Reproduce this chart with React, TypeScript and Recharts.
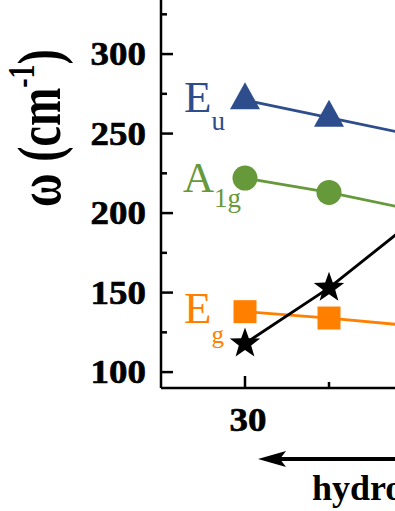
import React from "react";
import { LineChart, Line, XAxis, YAxis } from "recharts";

// values (pressure in GPa, frequency in cm^-1)
const pressure = [30, 40, 50];
const euFreq = [271, 260, 249];
const a1gFreq = [222, 213, 202];
const egFreq = [138, 134, 129];
const starFreq = [118, 153, 195];
const xTicks = [30, 40];
const yTicks = [100, 125, 150, 175, 200, 225, 250, 275, 300, 325];

const BLUE = "#2E4D8C";
const GREEN = "#66993A";
const ORANGE = "#FF8000";
const FONT = "'Liberation Serif', 'Times New Roman', serif";

const data = pressure.map((p, i) => ({
  p,
  eu: euFreq[i],
  a1g: a1gFreq[i],
  eg: egFreq[i],
  star: starFreq[i],
}));

const triangleDot = (props: any) => {
  const { cx, cy, index } = props;
  return (
    <path
      key={`tri-${index}`}
      d={`M${cx},${cy - 18} L${cx + 15},${cy + 9} L${cx - 15},${cy + 9} Z`}
      fill={BLUE}
    />
  );
};

const circleDot = (props: any) => {
  const { cx, cy, index } = props;
  return <circle key={`cir-${index}`} cx={cx} cy={cy} r={12.5} fill={GREEN} />;
};

const squareDot = (props: any) => {
  const { cx, cy, index } = props;
  return <rect key={`sq-${index}`} x={cx - 11.5} y={cy - 11.5} width={23} height={23} fill={ORANGE} />;
};

const starDot = (props: any) => {
  const { cx, cy, index } = props;
  const pts: string[] = [];
  for (let k = 0; k < 10; k++) {
    const r = k % 2 === 0 ? 16 : 6.5;
    const a = -Math.PI / 2 + (k * Math.PI) / 5;
    pts.push(`${cx + r * Math.cos(a)},${cy + r * Math.sin(a)}`);
  }
  return <polygon key={`st-${index}`} points={pts.join(" ")} fill="#000" />;
};

const YTick = (props: any) => {
  const { x, y, payload } = props;
  const major = payload.value % 50 === 0;
  return (
    <g>
      <line x1={x + 16} x2={x + 16 + (major ? 12 : 6)} y1={y} y2={y} stroke="#000" strokeWidth={2.5} />
      {major && (
        <text
          transform={`translate(${x + 1},${y + 11}) scale(1.12,1)`}
          textAnchor="end"
          fontFamily={FONT}
          fontWeight="bold"
          fontSize={33}
          stroke="#000"
          strokeWidth={0.6}
          fill="#000"
        >
          {payload.value}
        </text>
      )}
    </g>
  );
};

const XTick = (props: any) => {
  const { x, y, payload } = props;
  const major = (payload.value - 30) % 20 === 0;
  return (
    <g>
      <line x1={x} x2={x} y1={y} y2={y - (major ? 12 : 6)} stroke="#000" strokeWidth={2.5} />
      {major && (
        <text
          transform={`translate(${x + 3},${y + 43}) scale(1.12,1)`}
          textAnchor="middle"
          fontFamily={FONT}
          fontWeight="bold"
          fontSize={33}
          stroke="#000"
          strokeWidth={0.6}
          fill="#000"
        >
          {payload.value}
        </text>
      )}
    </g>
  );
};

export default function App() {
  return (
    <div
      style={{
        position: "absolute",
        left: 0,
        top: 0,
        width: 395,
        height: 511,
        overflow: "hidden",
        background: "#fff",
      }}
    >
      <LineChart width={581} height={511} data={data} margin={{ top: 0, right: 0, bottom: 0, left: 0 }}>
        <XAxis
          type="number"
          dataKey="p"
          domain={[20, 70]}
          ticks={xTicks}
          interval={0}
          height={123}
          tickSize={0}
          tickMargin={0}
          tickLine={false}
          tick={XTick}
          axisLine={{ stroke: "#000", strokeWidth: 2.5 }}
        />
        <YAxis
          type="number"
          domain={[90, 334]}
          ticks={yTicks}
          interval={0}
          width={161}
          tickSize={0}
          tickMargin={16}
          tickLine={false}
          tick={YTick}
          axisLine={{ stroke: "#000", strokeWidth: 2.5 }}
        />
        <Line type="linear" dataKey="eg" stroke={ORANGE} strokeWidth={2.8} dot={squareDot} activeDot={false} isAnimationActive={false} />
        <Line type="linear" dataKey="a1g" stroke={GREEN} strokeWidth={2.8} dot={circleDot} activeDot={false} isAnimationActive={false} />
        <Line type="linear" dataKey="eu" stroke={BLUE} strokeWidth={2.8} dot={triangleDot} activeDot={false} isAnimationActive={false} />
        <Line type="linear" dataKey="star" stroke="#000" strokeWidth={2.8} dot={starDot} activeDot={false} isAnimationActive={false} />
      </LineChart>

      {/* annotations drawn over the chart */}
      <svg width={395} height={511} style={{ position: "absolute", left: 0, top: 0, pointerEvents: "none" }}>
        <text
          transform="translate(60,128) rotate(-90) scale(1,1.35)"
          textAnchor="middle"
          fontFamily={FONT}
          fontWeight="bold"
          fontSize={46}
          fill="#000"
        >
          ω (cm<tspan fontSize={28} dy={-19}>-1</tspan>
          <tspan dy={19}>)</tspan>
        </text>

        <text x={184} y={112} fontFamily={FONT} fontSize={45} fill={BLUE}>
          E<tspan fontSize={27} dy={18}>u</tspan>
        </text>
        <text x={183} y={192} fontFamily={FONT} fontSize={43} fill={GREEN}>
          A<tspan fontSize={27} dy={15}>1g</tspan>
        </text>
        <text x={184} y={323} fontFamily={FONT} fontSize={45} fill={ORANGE}>
          E<tspan fontSize={25} dy={20}>g</tspan>
        </text>

        <line x1={278} x2={400} y1={459} y2={459} stroke="#000" strokeWidth={4} />
        <polygon points="258,459 286,451 280,459 286,467" fill="#000" />
        <text x={312} y={500} fontFamily={FONT} fontWeight="bold" fontSize={36} fill="#000">
          hydrostatic pressure
        </text>
      </svg>
    </div>
  );
}
